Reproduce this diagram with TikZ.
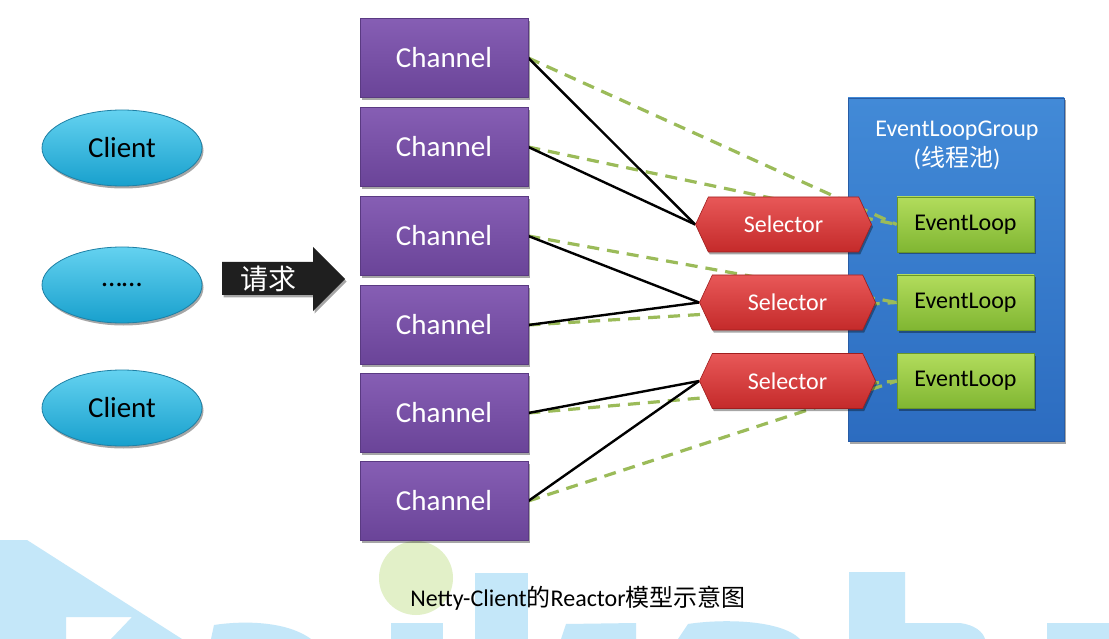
\documentclass[tikz,border=0pt]{standalone}
\usepackage{fontspec}
\setmainfont{Carlito}
\newfontfamily\cjk{Noto Sans CJK SC}
\usetikzlibrary{shapes.geometric,shapes.symbols,shadows}
\definecolor{wm}{RGB}{196,231,249}
\definecolor{blob}{RGB}{226,240,200}
\definecolor{clT}{RGB}{100,210,240}
\definecolor{clB}{RGB}{24,160,205}
\definecolor{clD}{RGB}{30,128,165}
\definecolor{chT}{RGB}{134,94,180}
\definecolor{chB}{RGB}{106,68,152}
\definecolor{chD}{RGB}{90,58,130}
\definecolor{seT}{RGB}{232,88,88}
\definecolor{seB}{RGB}{196,42,42}
\definecolor{seD}{RGB}{160,30,30}
\definecolor{elT}{RGB}{178,220,92}
\definecolor{elB}{RGB}{128,182,50}
\definecolor{elD}{RGB}{105,150,40}
\definecolor{grT}{RGB}{66,138,215}
\definecolor{grB}{RGB}{44,108,192}
\definecolor{grD}{RGB}{40,92,165}
\definecolor{dashgreen}{RGB}{155,187,89}
\pgfdeclarelayer{bg}
\pgfdeclarelayer{lines}
\pgfsetlayers{bg,lines,main}
\begin{document}
\begin{tikzpicture}[x=1pt,y=-1pt,
  shad/.style={drop shadow={shadow xshift=1.5pt,shadow yshift=-2.5pt,opacity=0.35,fill=black}},
  client/.style={ellipse,minimum width=160pt,minimum height=76pt,draw=clD,line width=0.8pt,
    top color=clT,bottom color=clB,text=black,font=\fontsize{29}{30}\selectfont,shad},
  chan/.style={rectangle,minimum width=168pt,minimum height=79pt,draw=chD,line width=0.6pt,
    top color=chT,bottom color=chB,text=white,font=\fontsize{29}{30}\selectfont,shad},
  sel/.style={signal,signal from=nowhere,signal to=west and east,signal pointer angle=130,
    minimum width=176pt,minimum height=55pt,inner sep=0pt,draw=seD,line width=0.6pt,
    top color=seT,bottom color=seB,text=white,font=\fontsize{24}{25}\selectfont,shad},
  eloop/.style={rectangle,minimum width=137pt,minimum height=55pt,draw=elD,line width=0.6pt,
    top color=elT,bottom color=elB,text=black,font=\fontsize{24}{25}\selectfont,shad},
  grp/.style={rectangle,minimum width=216pt,minimum height=343pt,draw=grD,line width=0.6pt,
    top color=grT,bottom color=grB,shad},
  wtxt/.style={text=white,font=\fontsize{24}{25}\selectfont,inner sep=0pt},
  blk/.style={black,line width=2.4pt},
  gdash/.style={draw=dashgreen,line width=3.2pt,dash pattern=on 12pt off 8pt}]
\useasboundingbox (0,0) rectangle (1109,639);
% background and watermark
\begin{pgfonlayer}{bg}
\fill[white] (0,0) rectangle (1109,639);
\fill[wm] (0,540) -- (27,540) -- (182,639) -- (111,639) -- (132,617) -- (66,617) -- (66,639) -- (0,639) -- cycle;
\fill[wm] (211,639) -- (214,625) .. controls (240,621) and (285,620) .. (311,639) -- cycle;
\fill[wm] (391,623) rectangle (443,639);
\fill[wm] (475,573) rectangle (528,639);
\fill[wm] (561,639) -- (566,624) -- (636,623) -- (636,639) -- cycle;
\fill[wm] (678,639) -- (688,624) .. controls (720,619) and (780,619) .. (800,639) -- cycle;
\fill[wm] (849,572) -- (905,572) -- (905,623) -- (960,623) .. controls (975,625) and (983,632) .. (985,639) -- (849,639) -- cycle;
\fill[wm] (1047,623) rectangle (1109,639);
\fill[blob] (416,578) ellipse [x radius=37pt, y radius=37pt];
\node[grp] (group) at (956,269.5) {};
\end{pgfonlayer}
% clients
\node[client] (c1) at (122,148) {Client};
\node[client] (c2) at (122,285) {……};
\node[client] (c3) at (122,408) {Client};
% request arrow
\fill[black!88,shad] (222,262) -- (313,262) -- (313,247) -- (345,279) -- (313,311) -- (313,295) -- (222,295) -- cycle;
\node[text=white,font=\cjk\fontsize{28}{29}\selectfont,inner sep=0pt] (req) at (268,279) {请求};
% channels
\node[chan] (ch1) at (444,58) {Channel};
\node[chan] (ch2) at (444,147) {Channel};
\node[chan] (ch3) at (444,236) {Channel};
\node[chan] (ch4) at (444,325) {Channel};
\node[chan] (ch5) at (444,413) {Channel};
\node[chan] (ch6) at (444,501) {Channel};
% group texts
\node[wtxt] (gt1) at (957,131) {EventLoopGroup};
\node[wtxt] (gt2) at (957,158) {(\cjk 线程池\rmfamily)};
% event loops
\node[eloop] (e1) at (965.5,224.5) {EventLoop};
\node[eloop] (e2) at (965.5,302.5) {EventLoop};
\node[eloop] (e3) at (965.5,381) {EventLoop};
% selectors
\node[sel] (s1) at (783.5,224.5) {Selector};
\node[sel] (s2) at (787.5,302.5) {Selector};
\node[sel] (s3) at (787.5,381) {Selector};
% connectors
\begin{pgfonlayer}{lines}
\draw[gdash] (ch1.east) -- (e1.west);
\draw[gdash] (ch2.east) -- (e1.west);
\draw[gdash] (ch3.east) -- (e2.west);
\draw[gdash] (ch4.east) -- (e2.west);
\draw[gdash] (ch5.east) -- (e3.west);
\draw[gdash] (ch6.east) -- (e3.west);
\draw[blk] (ch1.east) -- (s1.west);
\draw[blk] (ch2.east) -- (s1.west);
\draw[blk] (ch3.east) -- (s2.west);
\draw[blk] (ch4.east) -- (s2.west);
\draw[blk] (ch5.east) -- (s3.west);
\draw[blk] (ch6.east) -- (s3.west);
\end{pgfonlayer}
% caption
\node[font=\fontsize{24}{25}\selectfont,inner sep=0pt] (cap) at (578,598) {Netty-Client{\cjk 的}Reactor{\cjk 模型示意图}};
\end{tikzpicture}
\end{document}
